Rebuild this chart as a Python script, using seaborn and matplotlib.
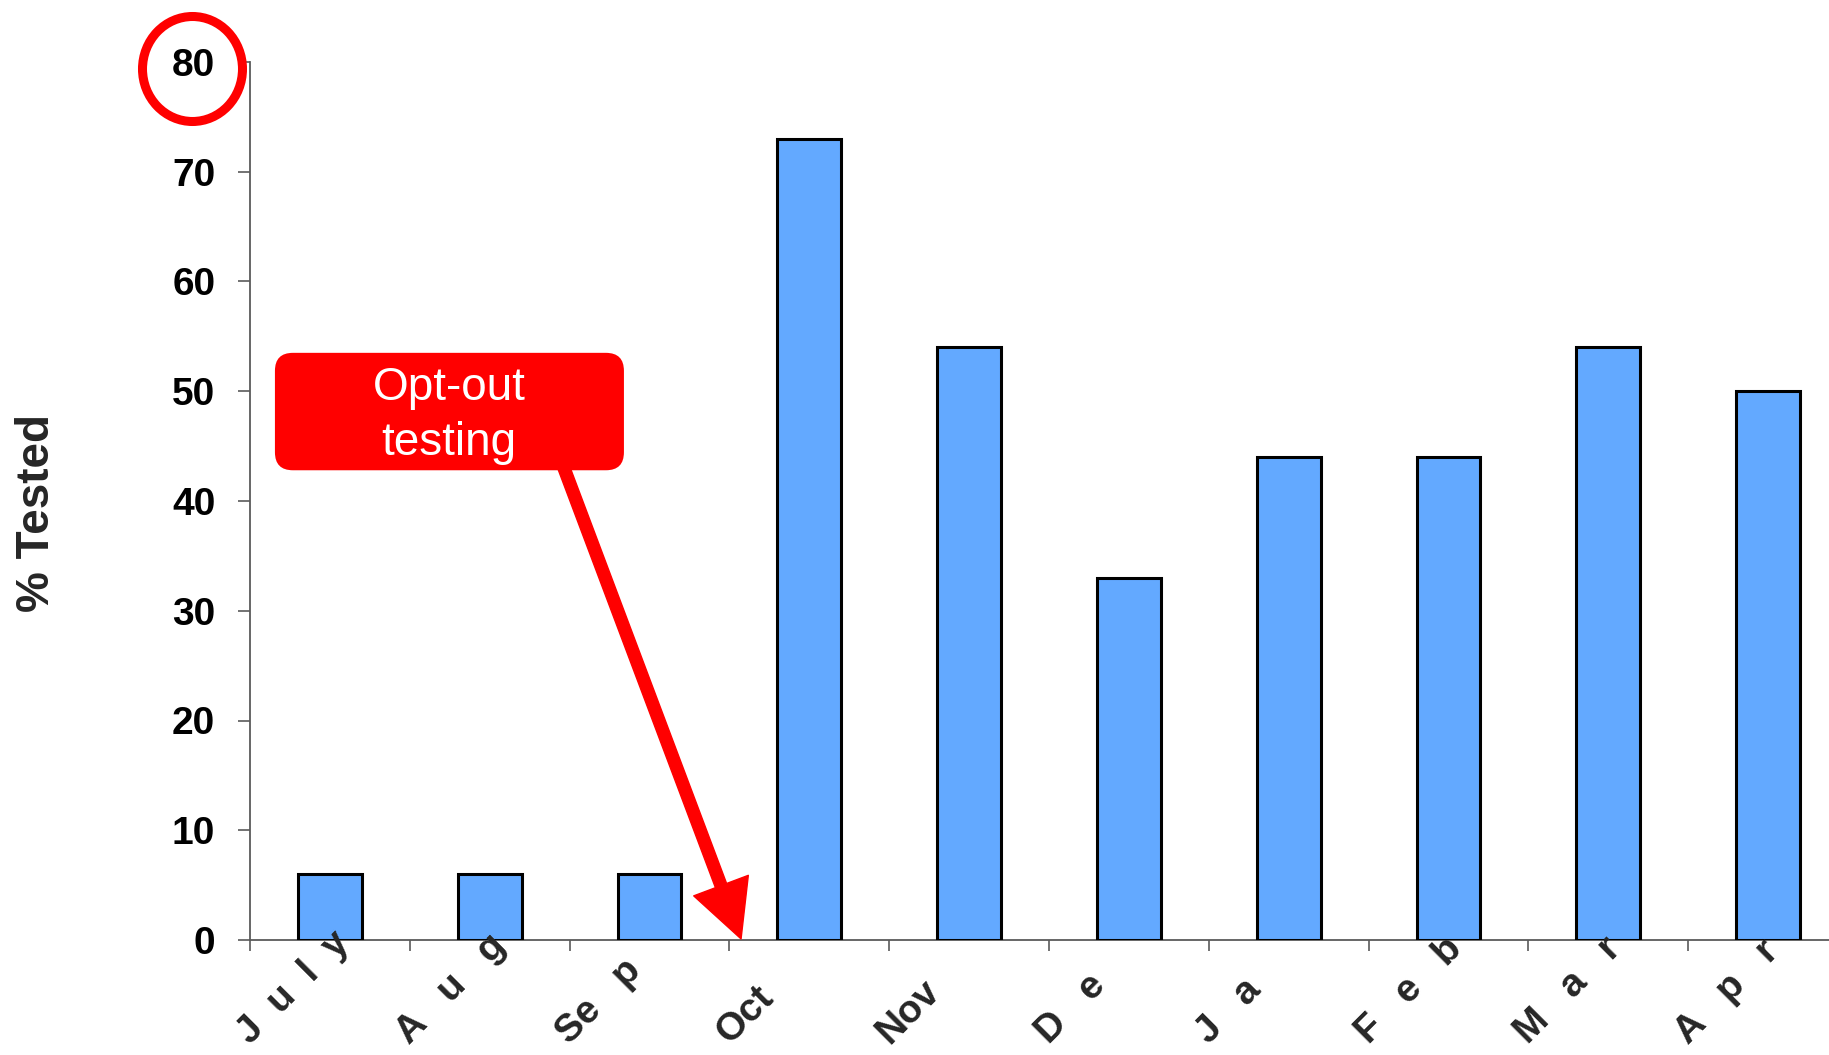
import numpy as np
import pandas as pd
import matplotlib
matplotlib.use("Agg")
import matplotlib.pyplot as plt
import matplotlib.transforms as mtransforms
from matplotlib.patches import FancyBboxPatch, FancyArrowPatch, Ellipse
import seaborn as sns

# ---- data ----
months = ["July", "Aug", "Sep", "Oct", "Nov", "Dec", "Jan", "Feb", "Mar", "Apr"]
tick_texts = ["J  u  l  y", "A   u   g", "Se   p", "Oct", "Nov", "D   e",
              "J   a", "F   e   b", "M   a   r", "A   p   r"]
pct_tested = [6, 6, 6, 73, 54, 33, 44, 44, 54, 50]
y_ticks = [0, 10, 20, 30, 40, 50, 60, 70, 80]
y_label = "% Tested"
callout = "Opt-out\ntesting"

sns.set_theme(style="white")
plt.rcParams["font.family"] = ["Liberation Sans", "DejaVu Sans"]

W, H = 1829, 1055
fig = plt.figure(figsize=(W / 100, H / 100), dpi=100)
ax = fig.add_axes([250 / W, 1 - 940 / H, 1598 / W, (940 - 62) / H])

df = pd.DataFrame({"month": months, "pct": pct_tested})
sns.barplot(data=df, x="month", y="pct", color="#63A9FF", saturation=1,
            edgecolor="black", linewidth=2.2, width=0.4, ax=ax, zorder=3)

ax.set_xlim(-0.5, len(months) - 0.5)
ax.set_ylim(0, 80)
ax.set_xlabel("")
ax.set_ylabel("")

# boundary ticks on x
ax.set_xticks(np.arange(-0.5, len(months), 1.0))
ax.set_xticklabels([])
ax.set_yticks(y_ticks)
ax.set_yticklabels([str(v) for v in y_ticks], fontsize=28, fontweight="bold")

axis_col = "#5a5a5a"
for s in ["top", "right"]:
    ax.spines[s].set_visible(False)
for s in ["left", "bottom"]:
    ax.spines[s].set_color(axis_col)
    ax.spines[s].set_linewidth(1.3)
ax.tick_params(axis="y", direction="out", length=9, width=1.2, color=axis_col,
               pad=16, left=True, labelcolor="black")
ax.tick_params(axis="x", direction="out", length=8, width=1.2, color=axis_col,
               bottom=True)

# spaced rotated month labels
trans = mtransforms.blended_transform_factory(ax.transData, ax.transAxes)
for i, t in enumerate(tick_texts):
    ax.text(i - 0.5, -0.1196, t, transform=trans, rotation=45,
            rotation_mode="anchor", ha="left", va="baseline",
            fontsize=28, fontweight="bold", clip_on=False)

# y label
fig.text(37 / W, 1 - 513 / H, y_label, rotation=90, ha="center", va="center",
         fontsize=33, fontweight="bold")

# red circle around 80
circ = Ellipse((192.5 / W, 1 - 69 / H), 100 / W, 105 / H, transform=fig.transFigure,
               fill=False, ec="#FF0000", lw=6.5)
fig.add_artist(circ)

# callout box (data coords converted to pixels)
p0 = ax.transData.transform((-0.344, 42.8))
p1 = ax.transData.transform((1.84, 53.5))
box = FancyBboxPatch((p0[0], p0[1]), p1[0] - p0[0], p1[1] - p0[1],
                     boxstyle="round,pad=0,rounding_size=18",
                     transform=mtransforms.IdentityTransform(),
                     fc="#FF0000", ec="none", zorder=6)
fig.add_artist(box)

arrow = FancyArrowPatch(posA=(1.452, 43.5), posB=(2.573, 0.1),
                        arrowstyle="simple,head_length=41,head_width=42,tail_width=8.6",
                        mutation_scale=1, color="#FF0000", shrinkA=0, shrinkB=0,
                        transform=ax.transData, zorder=5)
fig.add_artist(arrow)

fig.text(*fig.transFigure.inverted().transform(ax.transData.transform((0.745, 47.8))),
         callout, color="white", fontsize=33, ha="center", va="center",
         linespacing=1.32, zorder=7)

fig.savefig("out.png", dpi=100)
